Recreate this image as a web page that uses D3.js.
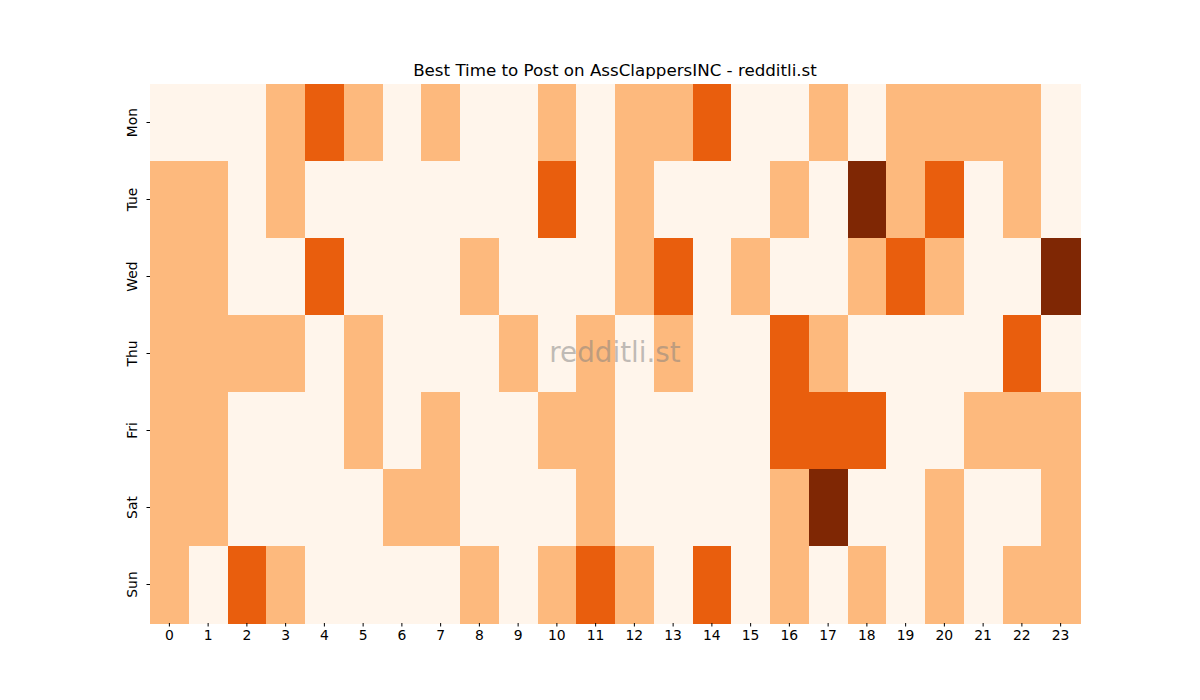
<!DOCTYPE html>
<html>
<head>
<meta charset="utf-8">
<script src="https://cdn.jsdelivr.net/npm/d3@7"></script>
<style>
  body { margin: 0; background: #fff; }
  svg text { font-family: "DejaVu Sans", sans-serif; }
</style>
</head>
<body>
<svg id="chart" width="1200" height="700"></svg>
<script>
// days (rows) and hours (columns)
var days = ["Mon", "Tue", "Wed", "Thu", "Fri", "Sat", "Sun"];
var hours = d3.range(24);

// activity level per day, one value per hour
var mon = [0,0,0,1,2,1,0,1,0,0,1,0,1,1,2,0,0,1,0,1,1,1,1,0];
var tue = [1,1,0,1,0,0,0,0,0,0,2,0,1,0,0,0,1,0,3,1,2,0,1,0];
var wed = [1,1,0,0,2,0,0,0,1,0,0,0,1,2,0,1,0,0,1,2,1,0,0,3];
var thu = [1,1,1,1,0,1,0,0,0,1,0,1,0,1,0,0,2,1,0,0,0,0,2,0];
var fri = [1,1,0,0,0,1,0,1,0,0,1,1,0,0,0,0,2,2,2,0,0,1,1,1];
var sat = [1,1,0,0,0,0,1,1,0,0,0,1,0,0,0,0,1,3,0,0,1,0,0,1];
var sun = [1,0,2,1,0,0,0,0,1,0,1,2,1,0,2,0,1,0,1,0,1,0,1,1];
var rows = [mon, tue, wed, thu, fri, sat, sun];

var margin = {top: 84, right: 120, bottom: 77, left: 150};
var width = 1200, height = 700;

var svg = d3.select("#chart");

var x = d3.scaleBand()
  .domain(hours)
  .range([margin.left, width - margin.right]);

var y = d3.scaleBand()
  .domain(days)
  .range([margin.top, height - margin.bottom]);

// Oranges-like steps
var color = d3.scaleOrdinal()
  .domain([0, 1, 2, 3])
  .range(["#fff5eb", "#fdb97d", "#e95e0d", "#7f2704"]);

var cells = [];
rows.forEach(function(r, i) {
  r.forEach(function(v, h) {
    cells.push({day: days[i], hour: h, value: v});
  });
});

svg.append("g")
  .selectAll("rect")
  .data(cells)
  .enter().append("rect")
    .attr("x", d => x(d.hour))
    .attr("y", d => y(d.day))
    .attr("width", x.bandwidth() + 0.5)
    .attr("height", y.bandwidth() + 0.5)
    .attr("fill", d => color(d.value))
    .attr("shape-rendering", "crispEdges");

// axes
var gx = svg.append("g")
  .attr("transform", `translate(0,${height - margin.bottom})`)
  .call(d3.axisBottom(x).tickSize(3.5).tickPadding(4));
gx.select(".domain").remove();
gx.selectAll("text").attr("font-size", 13.9).attr("fill", "#000");

var gy = svg.append("g")
  .attr("transform", `translate(${margin.left},0)`)
  .call(d3.axisLeft(y).tickSize(3.5).tickPadding(5));
gy.select(".domain").remove();
gy.selectAll("text")
  .attr("font-size", 13.9)
  .attr("fill", "#000")
  .attr("text-anchor", "middle")
  .attr("dy", 0)
  .attr("x", 0)
  .attr("transform", "translate(-13,0) rotate(-90)");

// title
svg.append("text")
  .attr("x", (margin.left + width - margin.right) / 2)
  .attr("y", 76)
  .attr("text-anchor", "middle")
  .attr("font-size", 16.7)
  .text("Best Time to Post on AssClappersINC - redditli.st");

// watermark
svg.append("text")
  .attr("x", (margin.left + width - margin.right) / 2)
  .attr("y", 362)
  .attr("text-anchor", "middle")
  .attr("font-size", 27.8)
  .attr("fill", "#808080")
  .attr("fill-opacity", 0.5)
  .text("redditli.st");
</script>
</body>
</html>
